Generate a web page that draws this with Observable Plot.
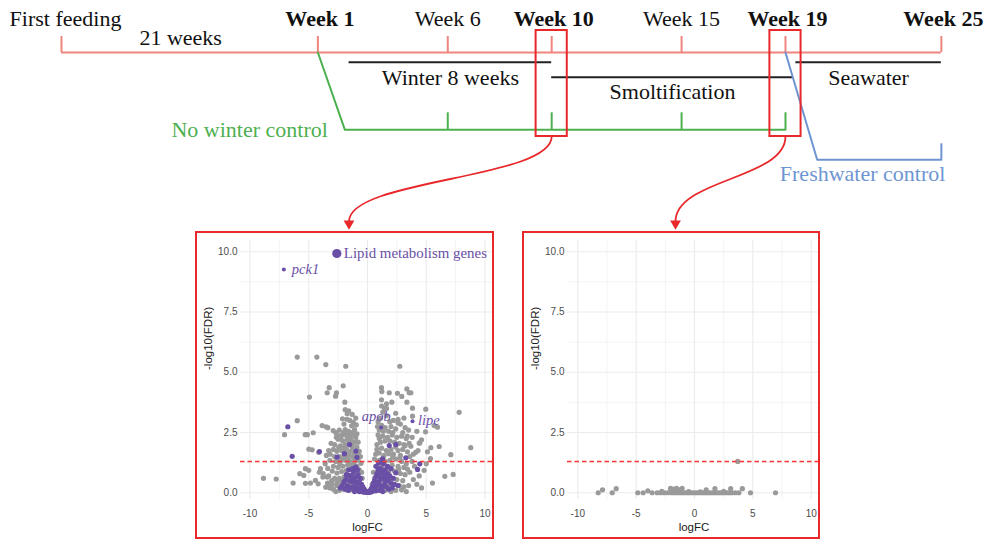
<!DOCTYPE html>
<html>
<head>
<meta charset="utf-8">
<script src="https://cdn.jsdelivr.net/npm/d3@7"></script>
<script src="https://cdn.jsdelivr.net/npm/@observablehq/plot@0.6"></script>
<style>
  html, body { margin: 0; padding: 0; background: #fff; }
  #fig { position: relative; width: 991px; height: 540px; overflow: hidden; background: #fff; }
  #fig > svg, #fig > .box { position: absolute; }
  .box { box-sizing: border-box; border: 2px solid #e8282b; pointer-events: none; }
</style>
</head>
<body>
<div id="fig"></div>
<script>
// ---------------- DATA ----------------
// Timeline (weeks; "First feeding" is drawn on a broken axis 21 weeks before Week 1)
const timepoints = ["First feeding", "Week 1", "Week 6", "Week 10", "Week 15", "Week 19", "Week 25"];
const timeWeeks  = [-8.87, 1, 6, 10, 15, 19, 25];
const sampled    = [false, true, false, true, false, true, true];
const spanLabel  = "21 weeks";
const phaseNames = ["Winter 8 weeks", "Smoltification", "Seawater"];
const phaseStart = [2.2, 10, 19.4];
const phaseEnd   = [10, 19.3, 25];
const phaseRow   = [0, 1, 0];
const noWinterLabel = "No winter control";
const noWinterFrom  = 1;
const noWinterWeeks = [6, 10, 15, 19];
const freshLabel  = "Freshwater control";
const freshFrom   = 19;
const freshWeeks  = [25];
const comparedWeeks = [10, 19];

// Volcano, Week 10 (no-winter vs winter): [logFC, -log10(FDR)]
const grayWeek10 = [
  [-8.85,0.6],[-7.77,0.57],[-7.06,2.41],[-6.33,0.4],[-5.98,2.99],[-5.98,5.63],[-5.76,0.79],[-5.42,0.72],[-5.28,1.0],[-5.0,0.93],
  [-5.28,0.39],[-5.3,2.41],[-5.12,2.41],[-4.99,1.81],[-4.94,3.97],[-4.85,0.4],[-4.71,1.78],[-4.62,2.49],[-4.43,0.51],[-4.31,5.63],
  [-4.2,0.37],[-4.15,1.68],[-4.0,1.0],[-3.86,2.79],[-3.77,0.79],[-3.55,5.32],[-3.55,0.23],[-3.52,2.74],[-3.43,4.15],[-3.43,0.65],
  [-3.38,2.7],[-3.38,1.01],[-3.26,4.36],[-3.19,0.3],[-3.18,1.6],[-2.92,2.58],[-2.72,4.01],[-2.64,4.15],[-2.58,2.41],[-2.3,2.24],
  [-2.07,4.44],[-1.93,3.76],[-1.85,5.25],[-2.13,3.07],[-1.73,3.28],
  [-1.9,3.45],[-1.6,3.4],[-1.3,3.25],[-1.0,3.1],[-1.75,3.05],[-1.5,3.0],[-1.2,2.92],[-2.0,2.85],[-1.35,2.78],[-0.95,2.82],
  [-2.4,2.6],[-1.9,2.62],[-1.6,2.55],[-1.3,2.5],[-1.1,2.62],[-2.7,2.5],[-0.9,2.45],[-1.8,2.42],[-2.2,2.38],[-1.45,2.4],[-1.05,2.4],[-2.05,2.5],
  [-2.5,2.22],[-2.1,2.15],[-1.7,2.2],[-1.4,2.25],[-1.0,2.3],[-0.8,2.1],[-1.2,2.05],[-2.8,2.0],[-3.1,2.05],[-1.9,2.0],[-1.55,2.05],[-2.3,1.95],[-0.95,2.12],[-1.35,2.12],[-1.75,2.32],[-2.65,2.3],
  [-3.3,1.75],[-2.9,1.8],[-2.6,1.72],[-2.2,1.75],[-1.8,1.82],[-1.3,1.88],[-0.9,1.9],[-0.7,1.72],[-1.1,1.66],[-1.6,1.62],[-2.0,1.68],[-2.45,1.88],[-1.45,1.72],[-0.8,1.6],[-1.95,1.9],
  [-2.0,1.55],[-2.4,1.5],[-2.8,1.5],[-3.5,1.55],[-0.6,1.5],[-3.2,1.35],[-2.7,1.3],[-2.3,1.32],[-1.9,1.35],[-1.5,1.3],[-1.1,1.4],[-0.8,1.35],[-0.55,1.22],[-1.3,1.5],[-1.7,1.45],[-0.95,1.52],[-2.15,1.42],
  [-0.9,1.1],[-1.3,1.1],[-1.7,1.15],[-2.1,1.1],[-2.5,1.05],[-2.9,1.1],[-3.6,1.2],[-3.0,0.9],[-2.6,0.82],[-2.2,0.88],[-1.8,0.92],[-1.4,0.98],[-1.0,0.9],[-0.7,0.95],[-0.5,0.85],[-2.35,1.2],[-1.55,1.2],[-1.15,1.22],
  [-3.3,0.7],[-2.8,0.6],[-2.4,0.6],[-2.0,0.65],[-1.6,0.7],[-1.2,0.7],[-0.45,0.6],[-3.8,0.65],[-4.1,0.85],[-2.6,0.45],[-2.2,0.5],[-1.85,0.45],[-1.4,0.52],[-0.9,0.6],[-3.05,0.5],
  [-3.0,0.35],[-2.6,0.3],[-2.2,0.38],[-1.9,0.25],[-1.5,0.3],[-1.1,0.35],[-0.8,0.4],[-0.5,0.3],[-2.9,0.15],[-2.4,0.1],[-1.7,0.1],[-1.3,0.12],[-0.3,0.15],[-3.4,0.4],[-2.7,0.05],[-2.05,0.15],[-3.2,0.2],
  [2.75,5.25],[1.19,4.36],[1.22,4.2],[1.85,4.15],[2.55,4.13],[2.92,4.0],[3.35,4.31],[3.55,4.15],[3.69,4.15],[1.19,3.86],
  [1.62,3.69],[2.07,3.76],[3.35,3.76],[3.83,3.51],[4.96,3.47],[7.8,3.34],[1.62,3.5],[3.83,3.18],[5.67,2.79],[5.96,2.72],
  [4.94,2.53],[4.11,1.68],[3.69,1.93],[4.4,2.06],[5.39,1.87],[6.1,1.92],[8.79,1.87],[7.09,1.58],[5.36,1.42],[4.82,0.93],
  [6.58,0.68],[7.29,0.76],[5.53,0.4],[4.45,2.07],[3.38,2.35],
  [1.3,3.35],[1.6,3.2],[1.1,3.1],[2.2,3.0],[2.6,3.05],[1.9,2.95],[3.1,3.1],[0.9,2.95],[1.45,3.5],[2.4,3.3],[1.2,3.6],
  [1.2,2.8],[1.5,2.7],[2.0,2.75],[2.4,2.65],[2.8,2.85],[3.2,2.7],[1.0,2.6],[1.8,2.55],[3.5,2.6],[4.2,2.55],[3.0,2.5],[1.35,2.55],[2.15,2.5],[2.6,2.9],[0.85,2.75],
  [0.9,2.4],[1.3,2.35],[1.7,2.3],[2.1,2.4],[2.5,2.3],[2.9,2.35],[3.3,2.25],[3.8,2.3],[1.1,2.1],[1.5,2.15],[2.3,2.1],[2.7,2.05],[3.1,2.0],[0.8,2.0],[4.6,2.2],[1.9,2.15],[1.0,2.25],[3.55,2.05],
  [0.8,1.8],[1.2,1.85],[1.6,1.75],[2.0,1.8],[2.6,1.75],[3.0,1.8],[3.4,1.7],[3.9,1.6],[0.7,1.6],[1.4,1.55],[2.2,1.6],[2.8,1.55],[3.6,1.5],[4.3,1.75],[5.1,1.7],[1.0,1.65],[1.8,1.62],[2.4,1.9],[3.2,1.95],
  [0.6,1.4],[1.0,1.35],[1.5,1.3],[1.9,1.35],[2.4,1.4],[2.9,1.3],[3.3,1.2],[3.8,1.3],[0.7,1.1],[1.2,1.1],[1.7,1.05],[2.1,1.15],[2.6,1.1],[3.1,1.05],[4.0,1.1],[5.0,1.2],[1.35,1.48],[2.15,1.48],[2.75,1.45],
  [0.5,0.85],[0.9,0.9],[1.4,0.8],[1.8,0.85],[2.3,0.9],[2.8,0.8],[3.2,0.75],[3.6,0.85],[4.4,0.7],[0.6,0.6],[1.1,0.6],[1.6,0.55],[2.0,0.6],[2.5,0.55],[3.0,0.5],[3.9,0.55],[2.65,0.98],[3.4,0.98],
  [0.4,0.35],[0.8,0.3],[1.3,0.35],[1.8,0.3],[2.2,0.35],[2.7,0.3],[3.1,0.25],[3.5,0.3],[0.3,0.1],[1.0,0.12],[1.5,0.1],[2.4,0.1],[2.9,0.12],[4.2,0.35],[4.6,0.2],[3.3,0.05],[2.0,0.05]
];
const lipidWeek10 = [
  [-6.78,2.74],[-6.41,1.51],[-4.09,1.71],[-2.58,1.48],[-1.96,1.62],[-1.53,2.0],[-0.99,1.73],[-0.9,1.47],[-1.0,1.06],
  [1.85,1.96],[2.41,2.0],[1.28,1.41],[3.26,1.45],[4.45,1.2],[4.26,0.97],[2.41,0.83],[-1.59,0.72],
  [-1.8,0.75],[-1.6,0.95],[-1.4,0.7],[-1.2,0.85],[-1.0,0.65],[-0.8,0.75],[-0.6,0.6],[-1.5,0.5],[-1.3,0.45],[-1.1,0.5],
  [-0.9,0.4],[-0.7,0.45],[-0.5,0.35],[-0.4,0.25],[-0.3,0.15],[-0.2,0.08],[-0.1,0.03],[-1.7,0.3],[-1.4,0.2],[-1.2,0.25],
  [-1.0,0.2],[-0.8,0.15],[-0.6,0.12],[-1.6,0.1],[-1.9,0.15],[-1.1,0.05],[-0.7,0.05],[-2.0,0.45],[-1.85,0.55],[-2.3,0.2],
  [-0.5,0.05],[-0.35,0.04],[-1.25,1.0],[-0.85,0.95],[-2.15,0.3],[-0.25,0.02],[-0.15,0.05],[-0.55,0.2],[-0.95,0.3],[-1.35,0.6],
  [0.1,0.03],[0.2,0.08],[0.3,0.15],[0.4,0.25],[0.5,0.4],[0.6,0.5],[0.7,0.65],[0.8,0.8],[0.9,0.95],[1.0,0.7],
  [1.1,0.55],[1.2,0.85],[1.3,0.6],[1.4,0.75],[1.5,0.95],[1.6,0.6],[1.7,0.8],[1.8,0.5],[1.9,0.7],[2.0,0.4],
  [0.6,0.2],[0.8,0.3],[1.0,0.35],[1.2,0.2],[1.4,0.3],[1.6,0.25],[1.8,0.15],[2.1,0.2],[0.4,0.05],[0.7,0.08],
  [1.0,0.1],[1.3,0.05],[2.3,0.35],[2.2,0.6],[0.9,0.45],[1.5,0.45],[1.1,1.0],[0.75,1.1],[1.35,1.2],[0.95,1.25],
  [1.7,1.1],[2.6,0.3],[0.25,0.03],[0.15,0.02],[0.55,0.1],[1.25,1.3],[2.0,1.0],[0.05,0.01],[-0.05,0.01]
];
const labeledGenes = ["pck1", "apob", "lipe"];
const labeledFC    = [-7.12, 1.16, 3.83];
const labeledFDR   = [9.27, 2.71, 2.97];
const legendLabel  = "Lipid metabolism genes";
const legendAt     = [-2.61, 9.93];

// Volcano, Week 19 (freshwater vs seawater-bound): [logFC, -log10(FDR)]
const grayWeek19 = [
  [-8.25,0],[-7.88,0.12],[-7.05,0],[-6.71,0.17],[-4.86,0],[-4.4,0],[-4.0,0.08],[-3.63,0],[3.71,1.3],[4.8,0],[6.94,0],
  [-3.2,0],[-2.9,0],[-2.6,0],[-2.3,0],[-2.0,0],[-1.8,0],[-1.6,0],[-1.4,0],[-1.2,0],[-1.0,0],[-0.8,0],[-0.6,0],
  [-0.4,0],[-0.2,0],[0,0],[0.2,0],[0.4,0],[0.6,0],[0.8,0],[1.0,0],[1.2,0],[1.4,0],[1.6,0],[1.8,0],[2.0,0],
  [2.2,0],[2.4,0],[2.6,0],[2.8,0],[3.0,0],[3.2,0],[3.5,0],[3.8,0],
  [-2.06,0.18],[-1.8,0.15],[-1.54,0.18],[-1.3,0.12],[-1.06,0.18],[1.0,0.12],[1.75,0.17],[3.1,0.17],[4.1,0.17],
  [-2.8,0.06],[-0.5,0.05],[0.5,0.04],[2.5,0.06]
];

const fdrThreshold = 1.3; // -log10(0.05)
const xMajor = [-10, -5, 0, 5, 10];
const xMinor = [-7.5, -2.5, 2.5, 7.5];
const yMajor = [0, 2.5, 5, 7.5, 10];
const yMinor = [1.25, 3.75, 6.25, 8.75];

// ---------------- STYLE / LAYOUT ----------------
const coral = "#f0857f", red = "#e8282b", green = "#4db04f", blue = "#6e95d2", ink = "#222";
const grayPt = "#9a9a9a", purple = "#6a4fa6", gridCol = "#ebebeb";
const W = 991, TLH = 232;
const tlDomain = [-11.217, 26.93];
const tl = d3.scaleLinear().domain(tlDomain).range([0, W]);
const lane = {label: 18, span: 37, tickTop: 36, main: 52, phase: [61.7, 76.7], phaseLabel: [77, 91],
  green: 129.3, greenTick: 112.3, greenLabel: 129, blue: 159.3, blueTick: 143.3, blueLabel: 173,
  boxTop: 30, boxBottom: 136, linkEnd: 221, head: 223};
const panels = [
  {left: 195, top: 231, width: 299, height: 308, zero: 172, k: 11.75},
  {left: 522, top: 231, width: 298, height: 308, zero: 172, k: 11.67}
];
const serif = "'Liberation Serif', 'Times New Roman', serif";
const sans = "'Liberation Sans', Arial, sans-serif";

const fig = document.getElementById("fig");

// ---------------- TIMELINE ----------------
const greenPath = [[noWinterFrom, lane.main], [noWinterFrom + 1.04, lane.green], [noWinterWeeks[noWinterWeeks.length - 1], lane.green]];
const bluePath = [[freshFrom, lane.main], [freshFrom + 1.22, lane.blue], [freshWeeks[0], lane.blue]];
const arrowTargets = panels.map(p => tl.invert(p.left + p.width / 2 + 4));

const timeline = Plot.plot({
  width: W, height: TLH, margin: 0,
  x: {domain: tlDomain, range: [0, W], axis: null},
  y: {domain: [0, TLH], range: [0, TLH], axis: null},
  style: {fontFamily: serif, fontSize: "22px", background: "transparent", overflow: "visible"},
  marks: [
    Plot.ruleY([lane.main], {x1: () => timeWeeks[0], x2: () => timeWeeks[timeWeeks.length - 1], stroke: coral, strokeWidth: 2}),
    Plot.ruleX(timeWeeks, {y1: () => lane.tickTop, y2: () => lane.main, stroke: coral, strokeWidth: 2}),
    Plot.text(timepoints, {filter: (d, i) => i === 0, x: (d, i) => timeWeeks[i], y: () => lane.label, text: d => d, dx: 4, fill: "#111"}),
    Plot.text(timepoints, {filter: (d, i) => i > 0 && !sampled[i], x: (d, i) => timeWeeks[i], y: () => lane.label, text: d => d, fill: "#111"}),
    Plot.text(timepoints, {filter: (d, i) => sampled[i], x: (d, i) => timeWeeks[i], y: () => lane.label, text: d => d, dx: 2, fontWeight: "bold", fill: "#111"}),
    Plot.text([spanLabel], {x: () => (timeWeeks[0] + timeWeeks[1]) / 2, y: () => lane.span, text: d => d, dx: -9, fill: "#111"}),
    Plot.ruleY(phaseNames, {y: (d, i) => lane.phase[phaseRow[i]], x1: (d, i) => phaseStart[i], x2: (d, i) => phaseEnd[i], stroke: ink, strokeWidth: 2}),
    Plot.text(phaseNames, {x: (d, i) => (phaseStart[i] + phaseEnd[i]) / 2, y: (d, i) => lane.phaseLabel[phaseRow[i]], text: d => d, fill: "#111"}),
    Plot.line(greenPath, {x: d => d[0], y: d => d[1], stroke: green, strokeWidth: 2}),
    Plot.ruleX(noWinterWeeks, {y1: () => lane.greenTick, y2: () => lane.green, stroke: green, strokeWidth: 2}),
    Plot.text([noWinterLabel], {x: () => noWinterFrom, y: () => lane.greenLabel, text: d => d, textAnchor: "end", dx: 10, fill: green}),
    Plot.line(bluePath, {x: d => d[0], y: d => d[1], stroke: blue, strokeWidth: 2}),
    Plot.ruleX(freshWeeks, {y1: () => lane.blueTick, y2: () => lane.blue, stroke: blue, strokeWidth: 2}),
    Plot.text([freshLabel], {x: () => freshWeeks[0], y: () => lane.blueLabel, text: d => d, textAnchor: "end", dx: 4, fill: blue}),
    Plot.rect(comparedWeeks, {x1: d => d - 0.6, x2: d => d + 0.6, y1: () => lane.boxTop, y2: () => lane.boxBottom, fill: "none", stroke: red, strokeWidth: 2}),
    Plot.link(comparedWeeks, {x1: d => d, y1: () => lane.boxBottom, x2: (d, i) => arrowTargets[i], y2: () => lane.linkEnd, curve: "bump-y", stroke: red, strokeWidth: 1.8}),
    Plot.dot(comparedWeeks, {x: (d, i) => arrowTargets[i], y: () => lane.head, symbol: "triangle", rotate: 180, r: 4, fill: red, stroke: "none"})
  ]
});
fig.appendChild(timeline);

// ---------------- VOLCANO PLOTS ----------------
function volcano(panel, gray, lipid, annotate) {
  const ml = 45;
  const xDomain = [(ml - panel.zero) / panel.k, (panel.width - panel.zero) / panel.k];
  const marks = [
    Plot.gridX(xMinor, {stroke: gridCol, strokeOpacity: 1, strokeWidth: 0.6}),
    Plot.gridY(yMinor, {stroke: gridCol, strokeOpacity: 1, strokeWidth: 0.6}),
    Plot.gridX(xMajor, {stroke: gridCol, strokeOpacity: 1, strokeWidth: 1.1}),
    Plot.gridY(yMajor, {stroke: gridCol, strokeOpacity: 1, strokeWidth: 1.1}),
    Plot.axisX(xMajor, {tickSize: 0, tickPadding: 10, tickFormat: d => String(d), label: null}),
    Plot.axisY(yMajor, {tickSize: 0, tickPadding: 3, tickFormat: d3.format(".1f"), label: null}),
    Plot.dot(gray, {x: d => d[0], y: d => d[1], r: 2.6, fill: grayPt, stroke: "none"}),
    Plot.dot(lipid, {x: d => d[0], y: d => d[1], r: 2.6, fill: purple, stroke: "none"})
  ];
  if (annotate) {
    marks.push(
      Plot.dot(labeledGenes, {x: (d, i) => labeledFC[i], y: (d, i) => labeledFDR[i], r: 2, fill: purple, stroke: "none"}),
      Plot.text(labeledGenes, {filter: (d, i) => i === 0, x: (d, i) => labeledFC[i], y: (d, i) => labeledFDR[i], text: d => d, textAnchor: "start", dx: 8, fontStyle: "italic", fontFamily: serif, fontSize: 14.5, fill: purple}),
      Plot.text(labeledGenes, {filter: (d, i) => i === 1, x: (d, i) => labeledFC[i], y: (d, i) => labeledFDR[i], text: d => d, textAnchor: "middle", dx: -5, dy: -11, fontStyle: "italic", fontFamily: serif, fontSize: 14.5, fill: purple}),
      Plot.text(labeledGenes, {filter: (d, i) => i === 2, x: (d, i) => labeledFC[i], y: (d, i) => labeledFDR[i], text: d => d, textAnchor: "start", dx: 5.5, dy: -1, fontStyle: "italic", fontFamily: serif, fontSize: 14.5, fill: purple}),
      Plot.dot([legendAt], {x: d => d[0], y: d => d[1], r: 4.6, fill: purple, stroke: "none"}),
      Plot.text([legendLabel], {x: () => legendAt[0], y: () => legendAt[1], text: d => d, textAnchor: "start", dx: 7, fontFamily: serif, fontSize: 14.9, fill: purple})
    );
  }
  marks.push(
    Plot.ruleY([fdrThreshold], {stroke: "#ff3535", strokeWidth: 1.5, strokeDasharray: "4.5,3"}),
    Plot.text(["logFC"], {frameAnchor: "bottom", lineAnchor: "middle", text: d => d, dy: 28, fontSize: 11.5, fill: "#1a1a1a"}),
    Plot.text(["-log10(FDR)"], {frameAnchor: "left", lineAnchor: "middle", text: d => d, rotate: -90, dx: -32, fontSize: 11.5, fill: "#1a1a1a"})
  );
  const svg = Plot.plot({
    width: panel.width, height: panel.height,
    marginLeft: ml, marginRight: 0, marginTop: 9, marginBottom: 40,
    x: {domain: xDomain},
    y: {domain: [-0.28, 10.47]},
    style: {fontFamily: sans, fontSize: "10px", color: "#4d4d4d", background: "#fff"},
    marks
  });
  svg.style.left = panel.left + "px";
  svg.style.top = panel.top + "px";
  fig.appendChild(svg);
  const box = document.createElement("div");
  box.className = "box";
  box.style.left = panel.left + "px";
  box.style.top = panel.top + "px";
  box.style.width = panel.width + "px";
  box.style.height = panel.height + "px";
  fig.appendChild(box);
}

volcano(panels[0], grayWeek10, lipidWeek10, true);
volcano(panels[1], grayWeek19, [], false);
</script>
</body>
</html>
